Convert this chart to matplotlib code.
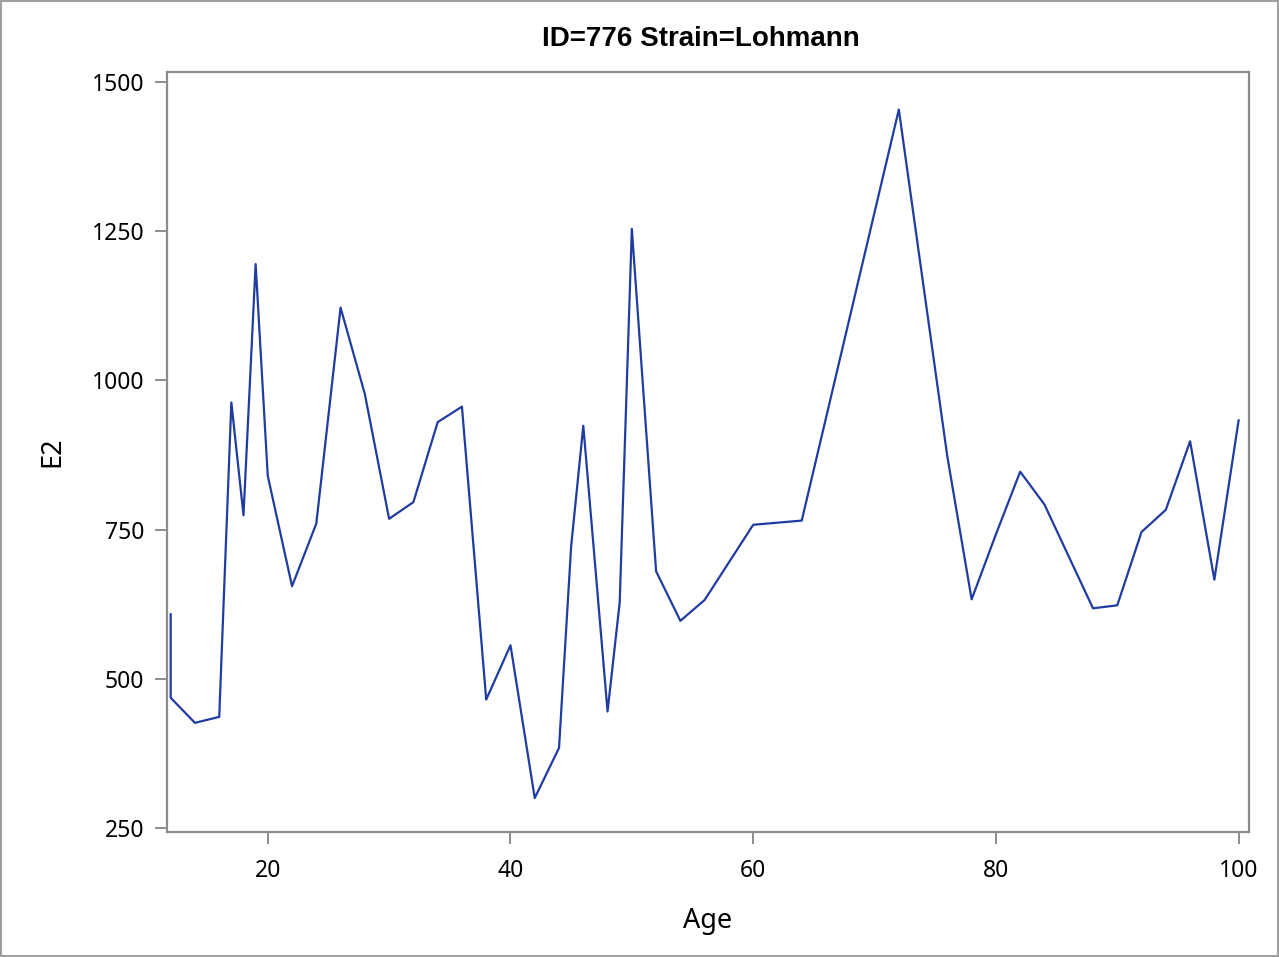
import matplotlib.pyplot as plt
from matplotlib.patches import Rectangle

# ID=776, Strain=Lohmann
age = [12, 12, 14, 16, 17, 18, 19, 20, 22, 24, 26, 28, 30, 32, 34, 36, 38, 40,
       42, 44, 45, 46, 48, 49, 50, 52, 54, 56, 60, 64, 72, 76, 78, 80, 82, 84,
       88, 90, 92, 94, 96, 98, 100]
e2 = [608, 468, 426, 436, 963, 774, 1195, 840, 655, 760, 1122, 977, 768, 796,
      930, 956, 465, 556, 300, 384, 722, 924, 445, 628, 1254, 680, 597, 632,
      758, 765, 1454, 872, 633, 742, 847, 792, 618, 623, 746, 783, 898, 666, 933]
yticks = [250, 500, 750, 1000, 1250, 1500]
xticks = [20, 40, 60, 80, 100]

plt.rcParams['font.family'] = ['Noto Sans', 'DejaVu Sans']

fig = plt.figure(figsize=(12.79, 9.57), dpi=100)
ax = fig.add_axes([0.1306, 0.1306, 0.8459, 0.7942])

ax.plot(age, e2, color='#203ca0', linewidth=1.6)

ax.set_xlim(11.7, 100.85)
ax.set_ylim(243, 1517)
ax.set_xticks(xticks)
ax.set_yticks(yticks)

for s in ax.spines.values():
    s.set_color('#8c8c8c')
    s.set_linewidth(1.6)
ax.tick_params(colors='#8c8c8c', length=8.5, width=1.4, labelsize=16.5, labelcolor='black')
ax.tick_params(axis='x', pad=11)
ax.tick_params(axis='y', pad=8)

ax.set_xlabel('Age', fontsize=19.5, labelpad=17)
ax.set_ylabel('E2', fontsize=19.5, labelpad=18)
ax.set_title('ID=776 Strain=Lohmann', fontsize=20, fontweight='bold', pad=19,
             family=['Liberation Sans', 'DejaVu Sans'], x=0.493)

# outer frame around the whole image
fig.patches.append(Rectangle((0.001, 0.001), 0.998, 0.998, transform=fig.transFigure,
                             fill=False, edgecolor='#a0a0a0', linewidth=1.5))

fig.savefig('out.png', dpi=100)
